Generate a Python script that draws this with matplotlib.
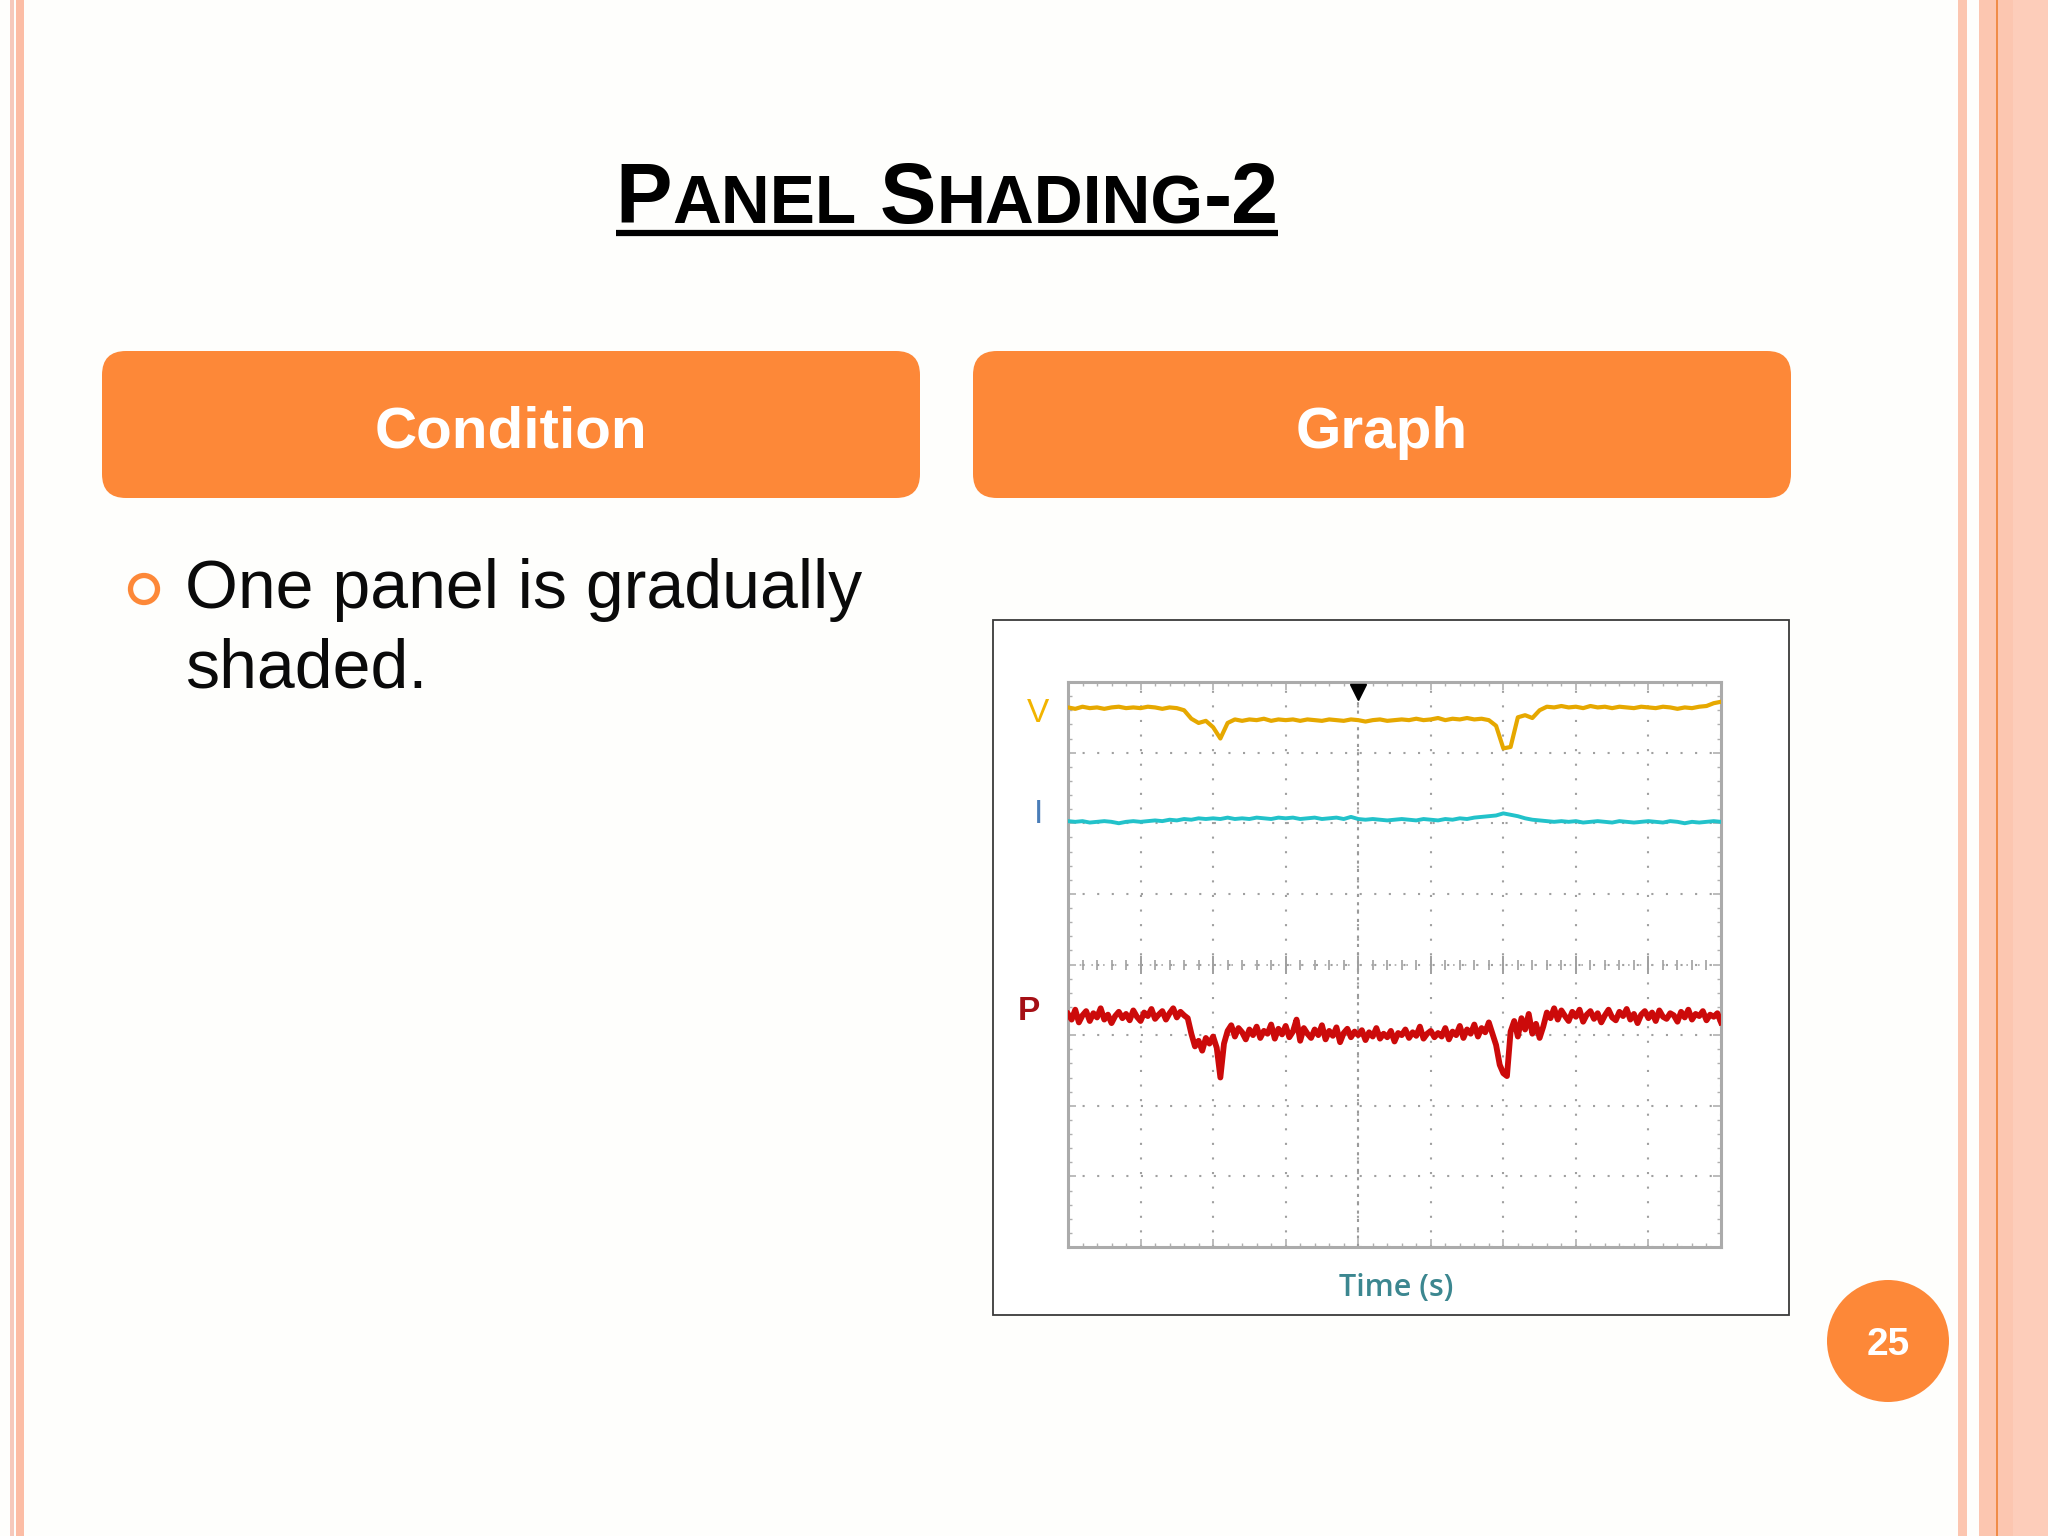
import numpy as np
import matplotlib
matplotlib.use('Agg')
import matplotlib.pyplot as plt
from matplotlib.patches import FancyBboxPatch, Circle, Rectangle
from matplotlib.ticker import MultipleLocator

# scope traces in divisions (9 across, 8 high)
v_trace = [7.64, 7.62, 7.65, 7.63, 7.64, 7.62, 7.64, 7.65, 7.63, 7.64,
           7.63, 7.65, 7.64, 7.62, 7.64, 7.63, 7.60, 7.48, 7.42, 7.45,
           7.36, 7.20, 7.42, 7.47, 7.45, 7.47, 7.46, 7.48, 7.45, 7.47,
           7.46, 7.47, 7.45, 7.47, 7.46, 7.45, 7.47, 7.46, 7.45, 7.47,
           7.46, 7.44, 7.46, 7.47, 7.45, 7.46, 7.47, 7.46, 7.48, 7.46,
           7.47, 7.49, 7.46, 7.48, 7.47, 7.49, 7.47, 7.48, 7.46, 7.38,
           7.06, 7.08, 7.50, 7.53, 7.49, 7.60, 7.65, 7.64, 7.66, 7.64,
           7.65, 7.63, 7.66, 7.64, 7.65, 7.63, 7.65, 7.64, 7.63, 7.65,
           7.64, 7.63, 7.65, 7.64, 7.62, 7.64, 7.63, 7.65, 7.66, 7.70, 7.72]
i_trace = [6.03, 6.02, 6.03, 6.01, 6.02, 6.03, 6.02, 6.00, 6.02, 6.03,
           6.02, 6.03, 6.04, 6.03, 6.05, 6.04, 6.06, 6.05, 6.07, 6.06,
           6.07, 6.06, 6.08, 6.06, 6.07, 6.06, 6.08, 6.07, 6.06, 6.08,
           6.07, 6.08, 6.06, 6.07, 6.08, 6.06, 6.07, 6.08, 6.06, 6.09,
           6.06, 6.05, 6.06, 6.05, 6.04, 6.05, 6.06, 6.05, 6.04, 6.06,
           6.05, 6.04, 6.06, 6.05, 6.07, 6.06, 6.08, 6.09, 6.10, 6.11,
           6.14, 6.12, 6.10, 6.07, 6.05, 6.04, 6.03, 6.02, 6.03, 6.02,
           6.03, 6.01, 6.02, 6.03, 6.02, 6.01, 6.03, 6.02, 6.01, 6.02,
           6.03, 6.02, 6.01, 6.03, 6.02, 6.00, 6.02, 6.01, 6.02, 6.03, 6.02]
p_trace = [3.30, 3.22, 3.36, 3.18, 3.28, 3.34, 3.20, 3.31, 3.25, 3.38,
           3.22, 3.29, 3.17, 3.27, 3.33, 3.24, 3.30, 3.21, 3.35, 3.26,
           3.20, 3.32, 3.27, 3.37, 3.23, 3.29, 3.34, 3.22, 3.31, 3.38,
           3.25, 3.33, 3.28, 3.24,
           3.02, 2.84, 2.92, 2.78, 2.96, 2.88,
           2.98, 2.82, 2.40, 2.88, 3.06, 3.14,
           2.98, 3.10, 3.04, 2.94, 3.08, 3.00, 3.12, 2.96, 3.06, 3.02,
           3.15, 2.95, 3.09, 3.01,
           3.13, 2.97, 3.05, 3.22, 2.92, 3.10, 3.02, 2.96, 3.08, 3.00,
           3.14, 2.94, 3.06, 2.99, 3.11, 2.90, 3.03, 3.09, 2.97, 3.05,
           3.00, 3.07, 2.93, 3.04, 2.98, 3.10, 2.95, 3.02, 2.97, 3.06,
           2.91, 3.03, 3.00, 3.08, 2.96, 3.04, 2.99, 3.12, 2.95, 3.02,
           3.06, 2.97, 3.03, 2.98, 3.10, 2.94, 3.05, 3.00, 3.13, 2.96,
           3.08, 3.02, 3.15, 2.98, 3.10, 3.04, 3.18, 3.02,
           2.86, 2.58, 2.46, 2.42, 3.05, 3.20,
           2.98, 3.24, 3.08, 3.30, 3.02, 3.16, 2.96, 3.12,
           3.32, 3.24, 3.38, 3.22, 3.35, 3.27, 3.20, 3.33, 3.26, 3.36,
           3.19, 3.29, 3.34, 3.23, 3.31, 3.18, 3.28, 3.36, 3.25, 3.21,
           3.33, 3.27, 3.37, 3.22, 3.30, 3.17, 3.29, 3.34, 3.24, 3.32,
           3.20, 3.35, 3.26, 3.23, 3.31, 3.28, 3.19, 3.33, 3.25, 3.36,
           3.22, 3.30, 3.27, 3.34, 3.21, 3.29, 3.26, 3.31, 3.18]

trace_names = ['V', 'I', 'P']
trace_colors = ['#E6A800', '#22C2CA', '#CC0A0A']
trace_widths = [3.0, 2.8, 4.2]
label_colors = ['#F2B400', '#4A7DB8', '#A50F15']
label_y = [7.56, 6.13, 3.34]
label_x = [-0.41, -0.41, -0.54]
trigger_div = 4

title_parts = [('P', True), ('ANEL', False), ('S', True), ('HADING', False), ('-2', True)]
header_labels = ['Condition', 'Graph']
bullet_lines = ['One panel is gradually', 'shaded.']
page_number = '25'
x_label = 'Time (s)'

ORANGE = '#FD8838'
SALMON = '#FCC6B0'

plt.rcParams['font.family'] = ['Liberation Sans', 'DejaVu Sans']

fig = plt.figure(figsize=(20.48, 15.36), dpi=100, facecolor='#FEFEFC')
bg = fig.add_axes([0, 0, 1, 1])
bg.set_xlim(0, 2048)
bg.set_ylim(1536, 0)
bg.axis('off')

# border stripes of the slide
for x0, w, c in [(10, 4, '#F6C9BC'), (16, 8, '#FCBDA5'),
                 (1958, 9, SALMON), (1979, 17, SALMON), (1996, 2, '#F08C48'),
                 (1998, 15, SALMON), (2013, 35, '#FDCDBA')]:
    bg.add_patch(Rectangle((x0, 0), w, 1536, color=c, lw=0))

# title in small caps, laid out piece by piece
r = fig.canvas.get_renderer()
big = 61
pieces = []
for s, is_big in title_parts:
    t = bg.text(0, 223, s, fontsize=big if is_big else big * 0.8,
                fontweight='bold', va='baseline', ha='left')
    pieces.append(t)
gap = 0.278 * big * 100 / 72
widths = [t.get_window_extent(r).width for t in pieces]
total = sum(widths) + gap
x = 947 - total / 2
for k, (t, w) in enumerate(zip(pieces, widths)):
    t.set_x(x)
    x += w
    if k == 1:
        x += gap
bg.plot([947 - total / 2, 947 + total / 2], [233, 233], color='black',
        lw=4.5, solid_capstyle='butt')

# header boxes
for x0, lab in zip([102, 973], header_labels):
    bg.add_patch(FancyBboxPatch((x0, 351), 818, 147,
                                boxstyle='round,pad=0,rounding_size=24',
                                fc=ORANGE, ec='none'))
    bg.text(x0 + 409, 448, lab, color='white', fontsize=42, fontweight='bold',
            ha='center', va='baseline')

# bullet
bg.add_patch(Circle((144, 589), 13.5, fill=False, ec=ORANGE, lw=3.8))
bg.text(185, 608, bullet_lines[0], fontsize=49, color='#0A0A0A', va='baseline')
bg.text(185, 688, bullet_lines[1], fontsize=49, color='#0A0A0A', va='baseline')

# page number
bg.add_patch(Circle((1888, 1341), 61, fc=ORANGE, ec='none'))
bg.text(1888, 1355, page_number, color='white', fontsize=28, fontweight='bold',
        ha='center', va='baseline')

# chart frame
bg.add_patch(Rectangle((993, 620), 796, 695, fc='white', ec='#3A3A3A', lw=1.3))

# scope screen
ax = fig.add_axes([1068 / 2048, (1536 - 1247) / 1536, 653 / 2048, 565 / 1536])
ax.set_facecolor('white')
ax.set_xlim(0, 9)
ax.set_ylim(0, 8)
ax.set_xticks(range(10))
ax.set_yticks(range(9))
ax.xaxis.set_minor_locator(MultipleLocator(0.2))
ax.yaxis.set_minor_locator(MultipleLocator(0.2))
ax.tick_params(which='both', direction='in', top=True, right=True,
               labelbottom=False, labelleft=False, color='#B0B0B0')
ax.tick_params(which='major', length=6, width=1.2)
ax.tick_params(which='minor', length=3, width=1)
for sp in ax.spines.values():
    sp.set_color('#ABABAB')
    sp.set_linewidth(2.2)
ax.grid(True, which='major', color='#A0A0A0', lw=1.5, linestyle=(0, (1, 6)))

# centre cross with fine ticks
ax.axvline(trigger_div, color='#9A9A9A', lw=1.5, ls=(0, (1.5, 2.5)))
ax.axhline(4, color='#A8A8A8', lw=1.2, ls=(0, (1, 6)))
cx = np.arange(0.2, 9, 0.2)
ax.plot(cx, np.full(len(cx), 4.0), ls='none', marker='|', ms=7, mew=1.2, color='#A0A0A0')
ax.plot(range(1, 9), np.full(8, 4.0), ls='none', marker='|', ms=13, mew=1.4, color='#A0A0A0')

for tr, c, w in zip([v_trace, i_trace, p_trace], trace_colors, trace_widths):
    ax.plot(np.linspace(0, 9, len(tr)), tr, color=c, lw=w, zorder=3)

ax.plot(trigger_div, 7.86, marker='v', ms=12, color='black', clip_on=False, zorder=4)

for name, c, lx, ly in zip(trace_names, label_colors, label_x, label_y):
    ax.text(lx, ly, name, color=c, fontsize=24,
            fontweight='bold' if name == 'P' else 'normal',
            ha='center', va='center')

ax.text(4.52, -0.58, x_label, ha='center', va='center', fontsize=22,
        color='#3C8790', family=['Open Sans', 'DejaVu Sans'], fontweight='semibold')

fig.savefig('out.png', dpi=100, facecolor=fig.get_facecolor())
